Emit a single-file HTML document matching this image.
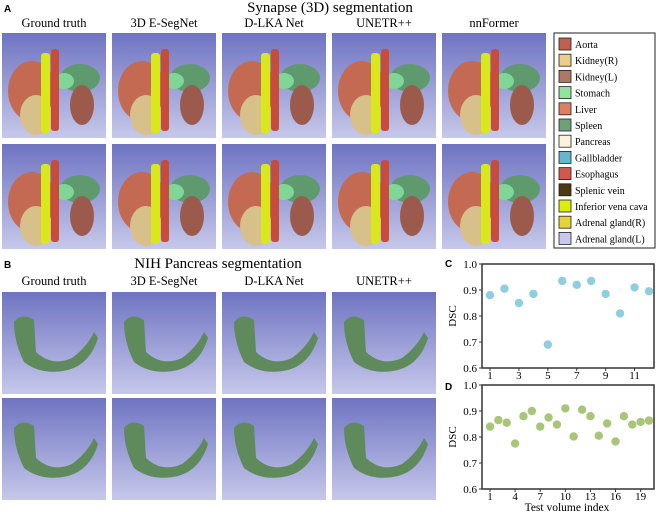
<!DOCTYPE html>
<html><head><meta charset="utf-8"><style>
body{margin:0;background:#fff;width:660px;height:512px;overflow:hidden;font-family:"Liberation Serif",serif}
svg{display:block}
</style></head><body>
<svg id="fig" width="660" height="512" xmlns="http://www.w3.org/2000/svg">
<defs>
<linearGradient id="bg" x1="0" y1="0" x2="0" y2="1"><stop offset="0" stop-color="#6f74c2"/><stop offset="1" stop-color="#c6c8ea"/></linearGradient>
<g id="organs">
<ellipse cx="30" cy="58" rx="24" ry="30" fill="#c56a52"/>
<ellipse cx="34" cy="82" rx="16" ry="20" fill="#d8c08a"/>
<ellipse cx="78" cy="45" rx="20" ry="14" fill="#5f9a6e"/>
<ellipse cx="62" cy="48" rx="10" ry="8" fill="#7fd696"/>
<ellipse cx="80" cy="72" rx="12" ry="20" fill="#9c5a4c"/>
<rect x="49" y="16" width="8" height="82" rx="3" fill="#c94c3a"/>
<rect x="39" y="20" width="9" height="80" rx="3" fill="#d9e81a"/>
</g>
<g id="panc">
<path d="M12 30 Q20 20 32 28 L34 60 Q50 75 70 66 Q85 55 92 40 L96 46 Q88 72 66 78 Q40 84 22 70 Q12 50 12 30Z" fill="#5e8a5c"/>
</g>
</defs>
<text x="4" y="12" font-family="Liberation Sans" font-weight="bold" font-size="10">A</text>
<text x="330" y="12" text-anchor="middle" font-size="15">Synapse (3D) segmentation</text>
<g id="colA" font-size="12.5" text-anchor="middle"></g>
<g id="panelsA"></g>
<text x="4" y="268" font-family="Liberation Sans" font-weight="bold" font-size="10">B</text>
<text x="218" y="268" text-anchor="middle" font-size="15">NIH Pancreas segmentation</text>
<g id="panelsB"></g>
<rect x="554" y="33" width="101" height="215" fill="#fff" stroke="#222" stroke-width="1"/>
<g id="legend" font-size="10"></g>
<text x="445" y="267" font-family="Liberation Sans" font-weight="bold" font-size="10">C</text>
<text x="445" y="390" font-family="Liberation Sans" font-weight="bold" font-size="10">D</text>
<g id="chartC"></g><g id="chartD"></g>
<text x="567" y="511" text-anchor="middle" font-size="11.5">Test volume index</text>
</svg>
<script>
const catsC=[1,2,3,4,5,6,7,8,9,10,11,12];
const valsC=[0.88,0.905,0.85,0.885,0.69,0.935,0.92,0.935,0.885,0.81,0.91,0.895];
const ticksXC=[1,3,5,7,9,11];
const catsD=[1,2,3,4,5,6,7,8,9,10,11,12,13,14,15,16,17,18,19,20];
const valsD=[0.84,0.865,0.855,0.775,0.88,0.9,0.84,0.875,0.848,0.91,0.802,0.905,0.88,0.805,0.852,0.783,0.88,0.848,0.858,0.863];
const ticksXD=[1,4,7,10,13,16,19];
const ticksY=[0.6,0.7,0.8,0.9,1.0];
const methodsA=["Ground truth","3D E-SegNet","D-LKA Net","UNETR++","nnFormer"];
const methodsB=["Ground truth","3D E-SegNet","D-LKA Net","UNETR++"];
const legendNames=["Aorta","Kidney(R)","Kidney(L)","Stomach","Liver","Spleen","Pancreas","Gallbladder","Esophagus","Splenic vein","Inferior vena cava","Adrenal gland(R)","Adrenal gland(L)"];
const legendColors=["#c0604e","#ecce8a","#b07864","#8ee69a","#e07e62","#6ea07a","#fbf3dc","#66b6cc","#d2584a","#4c3a10","#dcec10","#e6d23a","#c8c8ec"];
const NS="http://www.w3.org/2000/svg";
function mk(t,a,p){const e=document.createElementNS(NS,t);for(const k in a)e.setAttribute(k,a[k]);p.appendChild(e);return e;}
const colX=[2,112,222,332,442];
const colA=document.getElementById('colA');
methodsA.forEach((m,i)=>{const t=mk('text',{x:colX[i]+52,y:27},colA);t.textContent=m;

});
const pA=document.getElementById('panelsA');
[33,144].forEach(y=>colX.forEach(x=>{const g=mk('g',{transform:`translate(${x},${y})`},pA);


mk('rect',{width:104,height:105,fill:'url(#bg)'},g);mk('use',{href:'#organs'},g);}));
const pB=document.getElementById('panelsB');
methodsB.forEach((m,i)=>{const t=mk('text',{x:colX[i]+52,y:285,'text-anchor':'middle','font-size':12.5},pB);t.textContent=m;

});
[292,398].forEach(y=>colX.slice(0,4).forEach(x=>{const g=mk('g',{transform:`translate(${x},${y})`},pB);


mk('rect',{width:104,height:102,fill:'url(#bg)'},g);mk('use',{href:'#panc'},g);}));
const lg=document.getElementById('legend');
legendNames.forEach((n,i)=>{const y=38+i*16.2;
const r=mk('rect',{x:559,y:y,width:12,height:12,fill:legendColors[i],stroke:'#222','stroke-width':0.8},lg);


const t=mk('text',{x:575,y:y+10},lg);t.textContent=n;

});
function chart(id,cats,vals,xt,top,color){
const g=document.getElementById(id);const L=482,R=654,B=top+104;
const xs=c=>490+(c-1)*(R-5-490)/(cats.length-1);const ys=v=>B-(v-0.6)/0.4*104;
const fr=mk('rect',{x:L,y:top,width:R-L,height:104,fill:'none',stroke:'#333','stroke-width':1.5},g);


ticksY.forEach(v=>{mk('line',{x1:L-3,x2:L,y1:ys(v),y2:ys(v),stroke:'#333'},g);
const t=mk('text',{x:L-5,y:ys(v)+4,'text-anchor':'end','font-size':11},g);t.textContent=v.toFixed(1);

});
xt.forEach(c=>{mk('line',{x1:xs(c),x2:xs(c),y1:B,y2:B+3,stroke:'#333'},g);
const t=mk('text',{x:xs(c),y:B+11,'text-anchor':'middle','font-size':11},g);t.textContent=c;

});
const yl=mk('text',{x:0,y:0,transform:`translate(${L-26},${top+52}) rotate(-90)`,'text-anchor':'middle','font-size':11},g);yl.textContent='DSC';


cats.forEach((c,i)=>{const p=mk('circle',{cx:xs(c),cy:ys(vals[i]),r:4.2,fill:color},g);

});
}
chart('chartC',catsC,valsC,ticksXC,264,'#8fcde0');
chart('chartD',catsD,valsD,ticksXD,385,'#a9c57a');
</script>
</body></html>
